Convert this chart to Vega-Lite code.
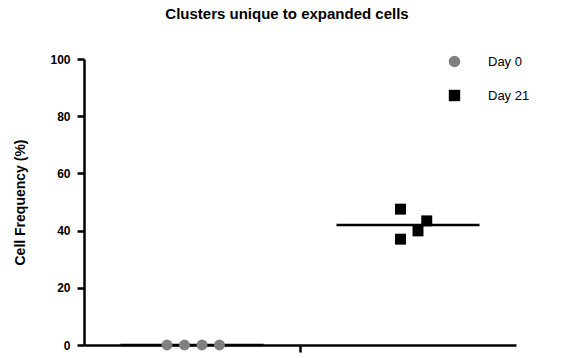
{
  "$schema": "https://vega.github.io/schema/vega-lite/v6.json",
  "width": 432,
  "height": 286,
  "autosize": {"type": "none"},
  "padding": {"left": 84, "top": 59, "right": 46, "bottom": 13},
  "background": "white",
  "title": {
    "text": "Clusters unique to expanded cells",
    "font": "Liberation Sans",
    "fontSize": 15,
    "fontWeight": "bold",
    "color": "black",
    "anchor": "middle",
    "dx": -13,
    "offset": 31
  },
  "config": {
    "view": {"stroke": null},
    "axis": {
      "domainColor": "black",
      "domainWidth": 2.5,
      "tickColor": "black",
      "tickWidth": 2.5,
      "tickSize": 7,
      "grid": false,
      "labelFont": "Liberation Sans",
      "labelFontWeight": "bold",
      "labelFontSize": 12,
      "labelColor": "black",
      "titleFont": "Liberation Sans",
      "titleFontWeight": "bold",
      "titleFontSize": 14,
      "titleColor": "black"
    },
    "legend": {
      "labelFont": "Liberation Sans",
      "labelFontSize": 13,
      "labelColor": "black"
    }
  },
  "data": {
    "values": [
      {"day": "Day 0", "slot": "s0", "freq": 0},
      {"day": "Day 0", "slot": "s2", "freq": 0},
      {"day": "Day 0", "slot": "s4", "freq": 0},
      {"day": "Day 0", "slot": "s6", "freq": 0},
      {"day": "Day 21", "slot": "s2", "freq": 47.5},
      {"day": "Day 21", "slot": "s5", "freq": 43.4},
      {"day": "Day 21", "slot": "s4", "freq": 39.9},
      {"day": "Day 21", "slot": "s2", "freq": 37.0}
    ]
  },
  "layer": [
    {
      "mark": {"type": "tick", "orient": "horizontal", "size": 143, "thickness": 2.5, "color": "black"},
      "encoding": {
        "x": {"field": "day", "type": "nominal"},
        "y": {"aggregate": "mean", "field": "freq", "type": "quantitative"}
      }
    },
    {
      "mark": {"type": "point", "filled": true, "opacity": 1, "size": 120},
      "encoding": {
        "x": {
          "field": "day",
          "type": "nominal",
          "scale": {"type": "band", "paddingInner": 0, "paddingOuter": 0},
          "axis": {"title": null, "labels": false, "values": ["Day 21"], "bandPosition": 0, "tickSize": 7}
        },
        "xOffset": {
          "field": "slot",
          "type": "nominal",
          "scale": {"domain": ["s0", "s1", "s2", "s3", "s4", "s5", "s6"], "range": [83, 135.5], "paddingOuter": 0, "paddingInner": 0}
        },
        "y": {
          "field": "freq",
          "type": "quantitative",
          "scale": {"domain": [0, 100], "nice": false},
          "axis": {"title": "Cell Frequency (%)", "values": [0, 20, 40, 60, 80, 100], "labelPadding": 7, "titlePadding": 22}
        },
        "shape": {
          "field": "day",
          "type": "nominal",
          "scale": {"domain": ["Day 0", "Day 21"], "range": ["circle", "square"]},
          "legend": {"title": null, "orient": "none", "legendX": 364, "legendY": -4, "symbolSize": 130, "rowPadding": 20, "labelOffset": 27, "padding": 0}
        },
        "color": {
          "field": "day",
          "type": "nominal",
          "scale": {"domain": ["Day 0", "Day 21"], "range": ["#808080", "#000000"]},
          "legend": {"title": null, "orient": "none", "legendX": 364, "legendY": -4, "symbolSize": 130, "rowPadding": 20, "labelOffset": 27, "padding": 0}
        }
      }
    }
  ]
}
